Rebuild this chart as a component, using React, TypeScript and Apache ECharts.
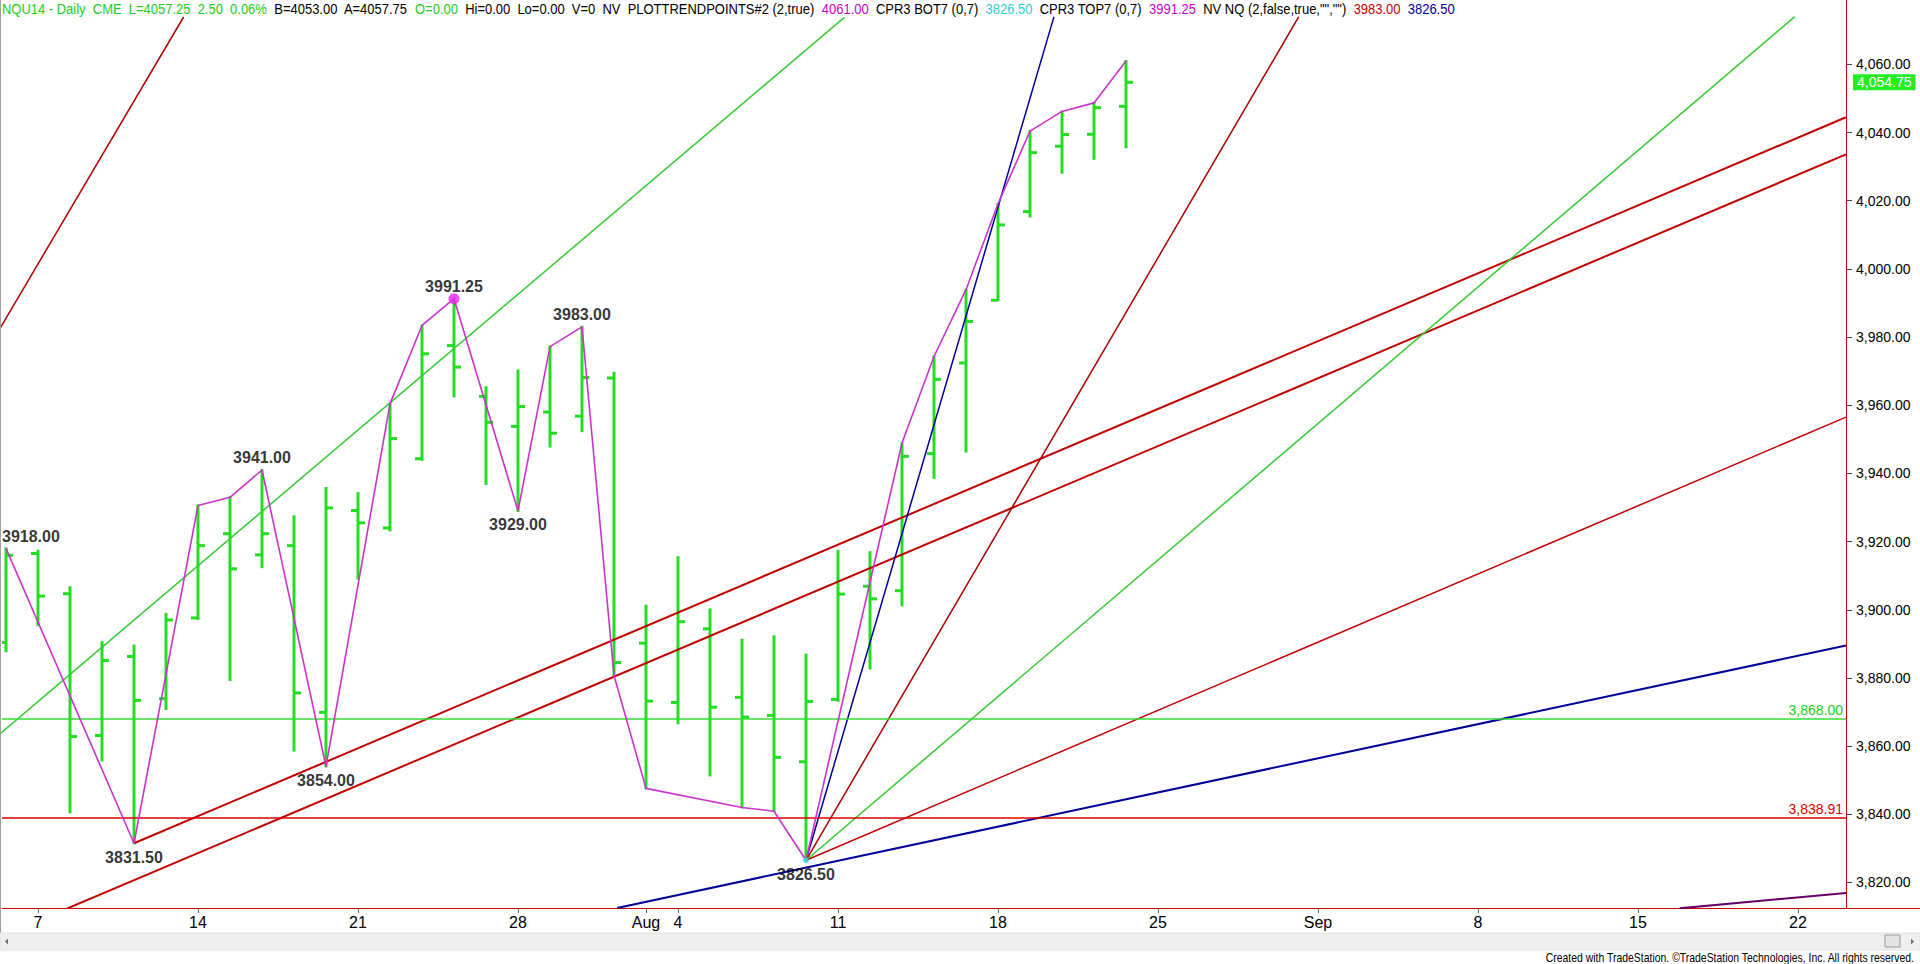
import React, { useEffect, useRef } from "react";
import * as echarts from "echarts";

// ---- Data (index 0 = Mon Jul 7, one unit per trading day) ----
const barIndex = [-1, 0, 1, 2, 3, 4, 5, 6, 7, 8, 9, 10, 11, 12, 13, 14, 15, 16, 17, 18, 19, 20, 21, 22, 23, 24, 25, 26, 27, 28, 29, 30, 31, 32, 33, 34];
const barOpen = [3890.4, 3916.5, 3904.7, 3863.1, 3886.3, 3873.9, 3897.6, 3922.3, 3916.1, 3918.8, 3869.9, 3929.1, 3924.0, 3944.3, 3977.5, 3962.6, 3953.8, 3958.0, 3956.8, 3968.0, 3890.2, 3872.8, 3894.4, 3874.3, 3869.0, 3855.4, 3873.7, 3906.9, 3905.6, 3945.8, 3972.4, 3990.8, 4016.8, 4036.0, 4039.5, 4047.7];
const barHigh = [3918.0, 3917.3, 3906.6, 3890.5, 3889.5, 3898.8, 3930.6, 3933.0, 3941.0, 3927.4, 3935.7, 3934.2, 3960.4, 3983.4, 3991.25, 3965.3, 3970.2, 3977.2, 3983.0, 3969.5, 3901.2, 3915.4, 3900.1, 3891.2, 3892.2, 3886.8, 3917.3, 3916.9, 3948.9, 3974.3, 3993.9, 4019.1, 4040.4, 4046.2, 4048.7, 4061.0];
const barLow = [3887.8, 3895.5, 3840.6, 3855.8, 3831.5, 3870.9, 3897.3, 3879.4, 3912.5, 3858.7, 3854.0, 3909.1, 3923.3, 3944.0, 3962.6, 3936.9, 3929.0, 3947.9, 3952.4, 3880.7, 3847.6, 3866.7, 3851.4, 3842.0, 3840.9, 3826.5, 3873.3, 3882.8, 3901.3, 3938.7, 3946.4, 3990.8, 4015.4, 4028.2, 4032.3, 4035.7];
const barClose = [3916.0, 3904.0, 3862.8, 3885.1, 3873.4, 3897.0, 3918.8, 3912.0, 3922.3, 3875.6, 3929.9, 3925.5, 3950.2, 3975.1, 3971.2, 3955.0, 3959.6, 3951.8, 3968.1, 3884.5, 3873.2, 3896.5, 3871.4, 3868.5, 3856.7, 3873.1, 3904.6, 3903.2, 3945.0, 3967.6, 3984.6, 4012.9, 4034.1, 4039.4, 4047.3, 4054.75];

const pivotIndex = [-1, 3, 5, 6, 7, 9, 11, 12, 13, 15, 16, 17, 18, 19, 22, 23, 24, 27, 28, 29, 30, 31, 32, 33, 34];
const pivotValue = [3918, 3831.5, 3930.6, 3933, 3941, 3854, 3960.4, 3983.4, 3991.25, 3929, 3977.2, 3983, 3880.7, 3847.6, 3842, 3840.9, 3826.5, 3948.9, 3974.3, 3993.9, 4019.1, 4040.4, 4046.2, 4048.7, 4061];

const labelIndex = [-1, 3, 7, 9, 13, 15, 17, 24];
const labelValue = [3918.0, 3831.5, 3941.0, 3854.0, 3991.25, 3929.0, 3983.0, 3826.5];
const labelAbove = [true, false, true, false, true, false, true, false];

const xTickValues = [0, 5, 10, 15, 19, 20, 25, 30, 35, 40, 45, 50, 55];
const xTickLabels = ["7", "14", "21", "28", "Aug", "4", "11", "18", "25", "Sep", "8", "15", "22"];
const yTickValues = [3820, 3840, 3860, 3880, 3900, 3920, 3940, 3960, 3980, 4000, 4020, 4040, 4060];

const levelGreen = 3868.0;
const levelRed = 3838.91;
const lastPrice = 4054.75;
const highPivot = [13, 3991.25];
const lowPivot = [24, 3826.5];

// trend lines: two anchor points each [index, price]
const lineRedTopLeft = [[-1.19, 3982.5], [4.55, 4073.9]];
const lineGreenUpper = [[-1.19, 3863.6], [25.2, 4073.8]];
const lineRedChannelUpper = [[3, 3831.5], [56.5, 4044.5]];
const lineRedChannelLower = [[0.9, 3812.3], [56.5, 4033.6]];
const lineBlueSteep = [[24, 3826.5], [31.75, 4074]];
const lineRedFan = [[24, 3826.5], [39.4, 4074]];
const lineGreenFan = [[24, 3826.5], [54.9, 4074]];
const lineRedFanLow = [[24, 3826.5], [56.5, 3956.5]];
const lineBlueLow = [[18.1, 3812.5], [56.5, 3889.5]];
const linePurple = [[51.3, 3812.4], [56.5, 3816.9]];

const headerParts: [string, string][] = [
  ["NQU14 - Daily  CME  L=4057.25  2.50  0.06%  ", "#22cc22"],
  ["B=4053.00  A=4057.75  ", "#000000"],
  ["O=0.00", "#22cc22"],
  ["  Hi=0.00  Lo=0.00  V=0  NV  PLOTTRENDPOINTS#2 (2,true)  ", "#000000"],
  ["4061.00", "#cc00cc"],
  ["  CPR3 BOT7 (0,7)  ", "#000000"],
  ["3826.50", "#33cccc"],
  ["  CPR3 TOP7 (0,7)  ", "#000000"],
  ["3991.25", "#cc00cc"],
  ["  NV NQ (2,false,true,\"\",\"\")  ", "#000000"],
  ["3983.00", "#cc0000"],
  ["  ", "#000000"],
  ["3826.50", "#000099"],
];

const BAR_GREEN = "#22dd22";
const fmt = (v: number) =>
  v.toLocaleString("en-US", { minimumFractionDigits: 2, maximumFractionDigits: 2 });

function trend(name: string, pts: number[][], color: string, width: number) {
  return {
    name,
    type: "line",
    data: pts,
    showSymbol: false,
    symbol: "none",
    clip: true,
    silent: true,
    z: 4,
    lineStyle: { color, width },
  };
}

export default function App() {
  const ref = useRef<HTMLDivElement>(null);
  useEffect(() => {
    if (!ref.current) return;
    const chart = echarts.init(ref.current, undefined, { renderer: "svg" });
    const ohlc = barIndex.map((x, i) => [x, barOpen[i], barHigh[i], barLow[i], barClose[i]]);
    const narrow = "'Liberation Sans Narrow', 'Arial Narrow', 'Liberation Sans', Arial, sans-serif";
    const sans = "'Liberation Sans', Arial, sans-serif";

    // header: one rich text, compressed horizontally to the reference width
    const headerFont = "14px 'Liberation Sans', Arial";
    let headerScale = 0.82;
    try {
      const ctx = document.createElement("canvas").getContext("2d");
      if (ctx) {
        ctx.font = headerFont;
        const w = ctx.measureText(headerParts.map((p) => p[0]).join("")).width;
        if (w > 0) headerScale = 1453 / w;
      }
    } catch (e) {}
    const rich: any = {};
    headerParts.forEach((p, i) => {
      rich["s" + i] = { fill: p[1], color: p[1], font: headerFont, fontSize: 14, fontFamily: sans };
    });
    const headerText = headerParts.map((p, i) => `{s${i}|${p[0]}}`).join("");

    const graphics: any[] = [
      { type: "rect", shape: { x: 0, y: 0, width: 1, height: 934 }, style: { fill: "#a0a0a0" }, z: 100 },
      { type: "line", shape: { x1: 1846, y1: 908.5, x2: 1920, y2: 908.5 }, style: { stroke: "#cc0000", lineWidth: 1 }, z: 100 },
      { type: "line", shape: { x1: 1846.5, y1: 0, x2: 1846.5, y2: 17 }, style: { stroke: "#cc0000", lineWidth: 1 }, z: 100 },
      { type: "rect", shape: { x: 0, y: 933, width: 1920, height: 17 }, style: { fill: "#efefef", stroke: "#e2e2e2", lineWidth: 1 }, z: 100 },
      { type: "polygon", shape: { points: [[5, 941.5], [8, 938.5], [8, 944.5]] }, style: { fill: "#707070" }, z: 101 },
      { type: "rect", shape: { x: 1885, y: 935, width: 15, height: 12 }, style: { fill: "#e4e4e4", stroke: "#9a9a9a", lineWidth: 1 }, z: 101 },
      { type: "polygon", shape: { points: [[1914, 941.5], [1911, 938.5], [1911, 944.5]] }, style: { fill: "#707070" }, z: 101 },
      {
        type: "text", x: 1914, y: 958, scaleX: 0.87, z: 101,
        style: { text: "Created with TradeStation. \u00A9TradeStation Technologies, Inc. All rights reserved.", fill: "#000", font: "12px 'Liberation Sans', Arial", align: "right", textAlign: "right", verticalAlign: "middle", textVerticalAlign: "middle" },
      },
      {
        type: "text", x: 2, y: 9, scaleX: headerScale, z: 101,
        style: { text: headerText, rich, fill: "#000", font: headerFont, align: "left", textAlign: "left", verticalAlign: "middle", textVerticalAlign: "middle" },
      },
    ];

    chart.setOption({
      animation: false,
      backgroundColor: "#ffffff",
      grid: { left: 2, right: 74, top: 17, bottom: 56, containLabel: false },
      xAxis: {
        type: "value",
        min: -1.125,
        max: 56.5,
        splitLine: { show: false },
        axisLine: { show: true, onZero: false, lineStyle: { color: "#cc0000", width: 1 } },
        axisTick: { show: true, customValues: xTickValues, length: 5, lineStyle: { color: "#666" } },
        axisLabel: {
          customValues: xTickValues,
          formatter: (v: number) => xTickLabels[xTickValues.indexOf(Math.round(v))] ?? "",
          fontFamily: narrow,
          fontSize: 16,
          color: "#000",
          margin: 6,
        },
      },
      yAxis: {
        type: "value",
        position: "right",
        min: 3812.5,
        max: 4073.9,
        splitLine: { show: false },
        axisLine: { show: true, onZero: false, lineStyle: { color: "#cc0000", width: 1 } },
        axisTick: { show: true, customValues: yTickValues, length: 6, lineStyle: { color: "#444" } },
        axisLabel: {
          customValues: yTickValues,
          formatter: (v: number) => fmt(v),
          fontFamily: sans,
          fontSize: 14,
          color: "#000",
          margin: 10,
        },
      },
      graphic: graphics,
      series: [
        {
          name: "bars",
          type: "custom",
          clip: true,
          z: 2,
          data: ohlc,
          encode: { x: 0, y: [1, 2, 3, 4] },
          renderItem: (params: any, api: any) => {
            const x = api.value(0);
            const pH = api.coord([x, api.value(2)]);
            const pL = api.coord([x, api.value(3)]);
            const pO = api.coord([x, api.value(1)]);
            const pC = api.coord([x, api.value(4)]);
            const st = { stroke: BAR_GREEN, lineWidth: 3 };
            return {
              type: "group",
              children: [
                { type: "line", shape: { x1: pH[0], y1: pH[1] - 1, x2: pL[0], y2: pL[1] + 1 }, style: st },
                { type: "line", shape: { x1: pO[0] - 7, y1: pO[1], x2: pO[0], y2: pO[1] }, style: st },
                { type: "line", shape: { x1: pC[0], y1: pC[1], x2: pC[0] + 7, y2: pC[1] }, style: st },
              ],
            };
          },
        },
        {
          name: "levels",
          type: "line",
          data: [],
          z: 3,
          markLine: {
            silent: true,
            symbol: "none",
            data: [
              {
                yAxis: levelGreen,
                lineStyle: { color: "#33dd33", width: 1.5, type: "solid" },
                label: { show: true, position: "insideEndTop", formatter: fmt(levelGreen), color: "#22cc22", fontSize: 14, fontFamily: sans, distance: [3, 2] },
              },
              {
                yAxis: levelRed,
                lineStyle: { color: "#dd0000", width: 1.5, type: "solid" },
                label: { show: true, position: "insideEndTop", formatter: fmt(levelRed), color: "#dd0000", fontSize: 14, fontFamily: sans, distance: [3, 2] },
              },
            ],
          },
        },
        {
          name: "last",
          type: "line",
          data: [],
          z: 8,
          markLine: {
            silent: true,
            symbol: "none",
            data: [
              {
                yAxis: lastPrice,
                lineStyle: { color: "rgba(255,255,255,0)", width: 0.01 },
                label: {
                  show: true, position: "end", formatter: fmt(lastPrice), color: "#ffffff", opacity: 1,
                  backgroundColor: "#22ee22", padding: [1, 4, 1, 4], fontSize: 14, fontFamily: sans, distance: 7,
                },
              },
            ],
          },
        },
        trend("redTopLeft", lineRedTopLeft, "#b00000", 1.5),
        trend("greenUpper", lineGreenUpper, "#33cc33", 1.5),
        trend("redChUpper", lineRedChannelUpper, "#c00000", 2),
        trend("redChLower", lineRedChannelLower, "#c00000", 2),
        trend("blueSteep", lineBlueSteep, "#000099", 1.5),
        trend("redFan", lineRedFan, "#aa0000", 1.5),
        trend("greenFan", lineGreenFan, "#33cc33", 1.5),
        trend("redFanLow", lineRedFanLow, "#c00000", 1.5),
        trend("blueLow", lineBlueLow, "#000099", 2),
        trend("purple", linePurple, "#660066", 2),
        {
          name: "zigzag",
          type: "line",
          data: pivotIndex.map((x, i) => [x, pivotValue[i]]),
          showSymbol: false,
          symbol: "none",
          clip: true,
          z: 5,
          lineStyle: { color: "#cc33cc", width: 1.6 },
        },
        {
          name: "dots",
          type: "scatter",
          z: 6,
          data: [
            { value: highPivot, symbolSize: 11, itemStyle: { color: "#ee22ee" } },
            { value: lowPivot, symbolSize: 6, itemStyle: { color: "#33dddd" } },
          ],
        },
        {
          name: "pivotLabels",
          type: "scatter",
          z: 7,
          symbolSize: 0,
          data: labelIndex.map((x, i) => ({
            value: [x, labelValue[i]],
            label:
              i === 0
                ? { position: "top", distance: 4, align: "left", offset: [-4, 0] }
                : { position: labelAbove[i] ? "top" : "bottom", distance: labelAbove[i] ? 4 : 6 },
          })),
          label: {
            show: true,
            formatter: (p: any) => p.value[1].toFixed(2),
            fontFamily: sans,
            fontWeight: "bold",
            fontSize: 16,
            color: "#000",
          },
        },
      ],
    } as any);
    return () => chart.dispose();
  }, []);
  return <div ref={ref} style={{ position: "fixed", left: 0, top: 0, width: 1920, height: 964 }} />;
}
